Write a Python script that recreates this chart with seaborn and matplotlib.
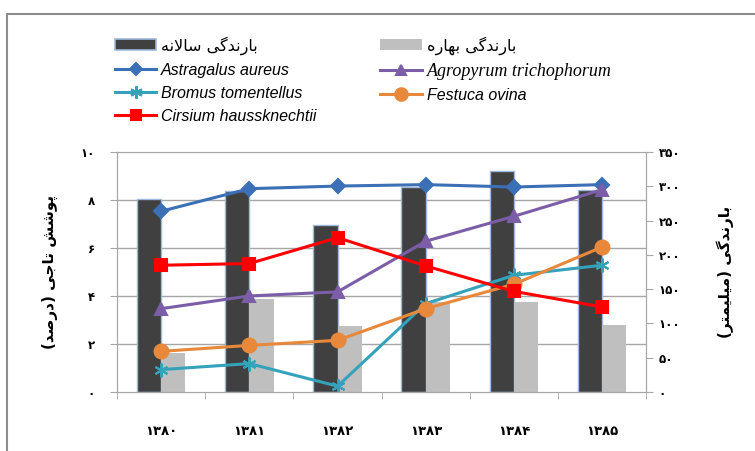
import numpy as np
import pandas as pd
import seaborn as sns
import matplotlib.pyplot as plt
from matplotlib.patches import Patch, Rectangle
from matplotlib.lines import Line2D

# data
years = ['1380', '1381', '1382', '1383', '1384', '1385']
rain_annual = [281, 293, 243, 299, 322, 294]
rain_spring = [57, 135, 96, 131, 131, 97]

astragalus = [7.53, 8.47, 8.58, 8.64, 8.54, 8.64]
agropyrum = [3.47, 4.0, 4.17, 6.28, 7.32, 8.43]
bromus = [0.93, 1.18, 0.24, 3.68, 4.86, 5.28]
festuca = [1.69, 1.94, 2.15, 3.47, 4.49, 6.04]
cirsium = [5.28, 5.35, 6.43, 5.25, 4.19, 3.54]

# --- small persian shaper (matplotlib has no arabic shaping) ---
# letter: (isolated, final, initial, medial); None -> right joining only
FORMS = {
    'ا': ('\uFE8D', '\uFE8E', None, None),
    'ب': ('\uFE8F', '\uFE90', '\uFE91', '\uFE92'),
    'پ': ('\uFB56', '\uFB57', '\uFB58', '\uFB59'),
    'ت': ('\uFE95', '\uFE96', '\uFE97', '\uFE98'),
    'ج': ('\uFE9D', '\uFE9E', '\uFE9F', '\uFEA0'),
    'د': ('\uFEA9', '\uFEAA', None, None),
    'ر': ('\uFEAD', '\uFEAE', None, None),
    'س': ('\uFEB1', '\uFEB2', '\uFEB3', '\uFEB4'),
    'ش': ('\uFEB5', '\uFEB6', '\uFEB7', '\uFEB8'),
    'ص': ('\uFEB9', '\uFEBA', '\uFEBB', '\uFEBC'),
    'ل': ('\uFEDD', '\uFEDE', '\uFEDF', '\uFEE0'),
    'م': ('\uFEE1', '\uFEE2', '\uFEE3', '\uFEE4'),
    'ن': ('\uFEE5', '\uFEE6', '\uFEE7', '\uFEE8'),
    'ه': ('\uFEE9', '\uFEEA', '\uFEEB', '\uFEEC'),
    'و': ('\uFEED', '\uFEEE', None, None),
    'ی': ('\uFBFC', '\uFBFD', '\uFBFE', '\uFBFF'),
    'گ': ('\uFB92', '\uFB93', '\uFB94', '\uFB95'),
}


def fa(text):
    out = []
    i = 0
    while i < len(text):
        c = text[i]
        if c not in FORMS:
            out.append(c)
            i += 1
            continue
        prev = text[i - 1] if i > 0 else ''
        joins_prev = prev in FORMS and FORMS[prev][2] is not None
        # lam-alef ligature
        if c == 'ل' and i + 1 < len(text) and text[i + 1] == 'ا':
            out.append('\uFEFC' if joins_prev else '\uFEFB')
            i += 2
            continue
        nxt = text[i + 1] if i + 1 < len(text) else ''
        joins_next = FORMS[c][2] is not None and nxt in FORMS
        iso, fin, ini, med = FORMS[c]
        if joins_prev and joins_next:
            out.append(med)
        elif joins_prev:
            out.append(fin)
        elif joins_next:
            out.append(ini)
        else:
            out.append(iso)
        i += 1
    s = ''.join(out)[::-1]
    return s.translate(str.maketrans('()', ')('))


def fa_num(s):
    return str(s).translate(str.maketrans('0123456789', '٠۱۲۳۴۵۶۷۸۹'))


plt.rcParams['font.family'] = ['DejaVu Sans']

df_rain = pd.DataFrame({
    'year': years * 2,
    'rain': rain_annual + rain_spring,
    'kind': ['annual'] * 6 + ['spring'] * 6,
})

fig = plt.figure(figsize=(7.55, 4.51), dpi=100)
ax = fig.add_axes([0.155, 0.131, 0.701, 0.532])

# bars on the right-hand axis
sns.barplot(data=df_rain, x='year', y='rain', hue='kind',
            palette=['#404040', '#bfbfbf'], width=0.55, gap=0,
            saturation=1, legend=False, ax=ax)
for p in ax.patches[:6]:
    p.set_edgecolor('#9db8dc')
    p.set_linewidth(1.0)

# lines on the left-hand axis (twin drawn on top)
ax2 = ax.twinx()
ax2.yaxis.tick_left()
ax2.yaxis.set_label_position('left')
ax.yaxis.tick_right()
ax.yaxis.set_label_position('right')

ax.set_ylim(0, 350)
ax.set_xlim(-0.5, 5.5)
ax.set_yticks(range(0, 351, 50))
ax.set_yticklabels([fa_num(v) for v in range(0, 351, 50)], fontsize=8.5, fontweight='bold')
ax.set_yticks(range(0, 351, 70), minor=True)
ax.grid(axis='y', which='minor', color='#a6a6a6', lw=1)
ax.tick_params(axis='y', which='minor', length=0)
ax.tick_params(axis='y', which='major', length=5, color='#a6a6a6', pad=4)
ax.set_axisbelow(True)
ax.set_xticks(np.arange(6))
ax.set_xticklabels([fa_num(y) for y in years], fontsize=9.5, fontweight='bold')
ax.set_xticks(np.arange(-0.5, 6, 1), minor=True)
ax.tick_params(axis='x', which='major', length=0, pad=24)
ax.tick_params(axis='x', which='minor', length=5, color='#a6a6a6')
ax.set_xlabel('')
ax.set_ylabel(fa('بارندگی (میلیمتر)'), fontsize=11, fontweight='bold',
              rotation=90, labelpad=26)
for sp in ax.spines.values():
    sp.set_color('#a6a6a6')

pos = np.arange(len(years))
series = [
    ('Astragalus aureus', astragalus, '#3b6fb6', 'D', 7),
    ('Agropyrum trichophorum', agropyrum, '#7b5ea7', '^', 8),
    ('Bromus tomentellus', bromus, '#35a2bb', (6, 2, 0), 10),
    ('Festuca ovina', festuca, '#e8883a', 'o', 10),
    ('Cirsium haussknechtii', cirsium, '#ff0000', 's', 8),
]
handles = {}
for name, vals, col, mk, ms in series:
    sns.lineplot(x=pos, y=vals, color=col, marker=mk, markersize=ms,
                 markeredgecolor=col, markeredgewidth=1.5, lw=2.2, ax=ax2)
    handles[name] = Line2D([], [], color=col, marker=mk, markersize=ms - 1,
                           markeredgecolor=col, markeredgewidth=1.5, lw=2.2)
ax2.set_ylim(0, 10)
ax2.set_yticks(range(0, 11, 2))
ax2.set_yticklabels([fa_num(v) for v in range(0, 11, 2)], fontsize=8.5, fontweight='bold')
ax2.tick_params(axis='y', length=5, color='#a6a6a6', pad=11)
ax2.set_ylabel(fa('پوشش تاجی (درصد)'), fontsize=11, fontweight='bold', labelpad=16)
for sp in ax2.spines.values():
    sp.set_color('#a6a6a6')

# legend, filled column by column
bar_a = Patch(facecolor='#404040', edgecolor='#9db8dc', lw=1.2)
bar_s = Patch(facecolor='#bfbfbf', edgecolor='none')
hs = [bar_a, handles['Astragalus aureus'], handles['Bromus tomentellus'],
      handles['Cirsium haussknechtii'],
      bar_s, handles['Agropyrum trichophorum'], handles['Festuca ovina']]
labels = [fa('بارندگی سالانه'), 'Astragalus aureus', 'Bromus tomentellus',
          'Cirsium haussknechtii',
          fa('بارندگی بهاره'), 'Agropyrum trichophorum', 'Festuca ovina']
leg = fig.legend(hs, labels, ncol=2, loc='upper left',
                 bbox_to_anchor=(0.152, 0.92), frameon=False, fontsize=11.5,
                 handlelength=2.6, handletextpad=0.3, labelspacing=0.5,
                 columnspacing=4.0, borderpad=0, borderaxespad=0)
for t in leg.get_texts():
    if t.get_text() in ('Astragalus aureus', 'Bromus tomentellus',
                        'Cirsium haussknechtii', 'Festuca ovina'):
        t.set_fontstyle('italic')
        t.set_family('Liberation Sans')
    elif t.get_text() == 'Agropyrum trichophorum':
        t.set_fontstyle('italic')
        t.set_family('Liberation Serif')
        t.set_fontsize(13)

# outer frame (cropped at right and bottom)
fig.patches.append(Rectangle((7 / 755, -0.1), 1.2, 1 - 14 / 451 + 0.1,
                             transform=fig.transFigure, fill=False,
                             edgecolor='#8c8c8c', lw=1.5))

fig.savefig('out.png', dpi=100)
